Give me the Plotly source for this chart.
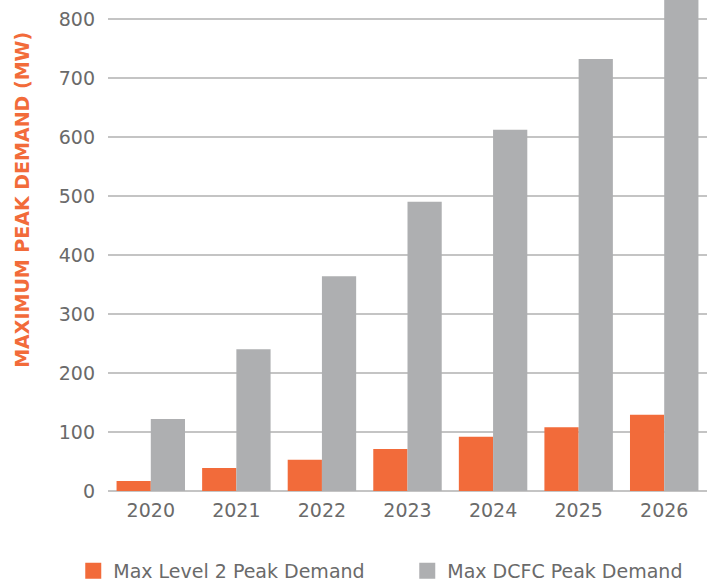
import plotly.graph_objects as go

years = ["2020", "2021", "2022", "2023", "2024", "2025", "2026"]
level2 = [17, 39, 53, 71, 92, 108, 129]
dcfc = [122, 240, 364, 490, 612, 732, 880]
series_names = ["Max Level 2 Peak Demand", "Max DCFC Peak Demand"]

ORANGE = "#F26B3A"
GRAY = "#AEAFB1"
FONT = "DejaVu Sans"
TXT = "#6A6A6A"

fig = go.Figure()
fig.add_trace(go.Bar(x=years, y=level2, name=series_names[0], marker_color=ORANGE,
                     marker_line_width=0, showlegend=False))
fig.add_trace(go.Bar(x=years, y=dcfc, name=series_names[1], marker_color=GRAY,
                     marker_line_width=0, showlegend=False))
# legend entries with larger square swatches
for nm, col in zip(series_names, [ORANGE, GRAY]):
    fig.add_trace(go.Scatter(x=[None], y=[None], mode="markers", name=nm,
                             marker=dict(symbol="square", size=18, color=col)))

fig.update_layout(
    width=711, height=582,
    margin=dict(l=108, r=4, t=0, b=91, autoexpand=False),
    plot_bgcolor="white", paper_bgcolor="white",
    barmode="group", bargap=0.2, bargroupgap=0,
    font=dict(family=FONT, color=TXT, size=19),
    showlegend=True,
    legend=dict(orientation="h", x=-0.058, xanchor="left", y=-0.124, yanchor="top",
                entrywidth=289, font=dict(size=19, color=TXT),
                itemsizing="trace"),
    xaxis=dict(showgrid=False, showline=False, ticks="", ticklabelstandoff=6,
               tickfont=dict(size=19, color=TXT)),
    yaxis=dict(range=[0, 832], tickvals=[0, 100, 200, 300, 400, 500, 600, 700, 800],
               showgrid=True, gridcolor="#C4C4C4", gridwidth=1.5,
               zeroline=True, zerolinecolor="#C4C4C4", zerolinewidth=1.5,
               showline=False, ticks="", ticklabelstandoff=12,
               tickfont=dict(size=19, color=TXT)),
    annotations=[dict(text="<b>MAXIMUM PEAK DEMAND (MW)</b>", xref="paper", yref="paper",
                      x=-0.1436, y=0.593, textangle=-90, showarrow=False,
                      xanchor="center", yanchor="middle",
                      font=dict(family=FONT, size=19, color=ORANGE))],
)

fig.write_html("out.html")
